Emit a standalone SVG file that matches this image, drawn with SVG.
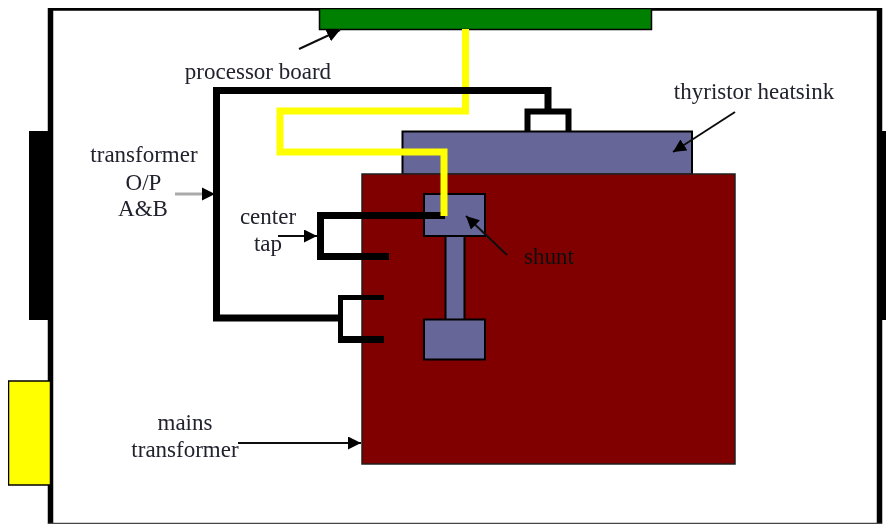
<svg xmlns="http://www.w3.org/2000/svg" width="886" height="524" viewBox="0 0 886 524">
<style>
.t{font-family:"Liberation Serif","Times New Roman",serif;font-size:23px;fill:#22222e;text-anchor:middle}
.b{fill:#666699;stroke:#000;stroke-width:2}
.w{fill:none;stroke:#000;stroke-width:7;stroke-linejoin:miter}
.a{fill:none;stroke:#111;stroke-width:2;marker-end:url(#h)}
</style>
<defs>
<marker id="h" markerUnits="userSpaceOnUse" markerWidth="14" markerHeight="14" refX="13" refY="6.500" orient="auto"><path d="M0 0L13 6.500L0 13Z" fill="#000"/></marker>
<filter id="soft" x="0" y="0" width="100%" height="100%"><feGaussianBlur stdDeviation="0.500"/></filter>
</defs>
<rect width="886" height="524" fill="#fff"/>
<g filter="url(#soft)">
<g id="enclosure">
<path d="M50.500 524V8H879.500V524" fill="none" stroke="#000" stroke-width="5.500"/>
<path d="M48 523.500H882" stroke="#444" stroke-width="1.500"/>
</g>
<g id="left-bar"><rect x="29" y="131" width="24" height="189" fill="#000"/></g>
<g id="right-bar"><rect x="882" y="131" width="4" height="189" fill="#000"/></g>
<g id="yellow-box"><rect x="8.500" y="381" width="42" height="104" fill="#ff0" stroke="#000" stroke-width="1.500"/></g>
<g id="processor-board"><rect x="319.500" y="8.500" width="332" height="21" fill="#008000" stroke="#000" stroke-width="1.500"/></g>
<g id="thyristor-heatsink"><rect class="b" x="402.500" y="131.500" width="289.500" height="43"/></g>
<g id="mains-transformer"><rect x="362" y="174" width="373" height="290" fill="#800000" stroke="#222" stroke-width="1.500"/></g>
<g id="shunt">
<rect class="b" x="445.500" y="236" width="19" height="84"/>
<rect class="b" x="424" y="194" width="61" height="42"/>
<rect class="b" x="424" y="319.500" width="61" height="40"/>
</g>
<g id="connectors">
<path class="w" d="M445 215.500H320.500V256.500H389"/>
<path d="M465.500 29V111H280V152H444V216" fill="none" stroke="#ff0" stroke-width="7"/>
<path class="w" d="M342 318H216.500V90.500H548V111"/>
<path class="w" style="stroke-width:6" d="M527.500 131V111.500H568.500V131"/>
<path class="w" style="stroke-width:5" d="M384 297.500H340.500V339.500"/>
<path class="w" d="M338 339.500H384"/>
<path class="a" d="M299 49L340 30"/>
<path class="a" d="M735 112L673 152"/>
<path d="M175 194H204" fill="none" stroke="#aaa" stroke-width="3"/>
<path d="M202 187.500L215 194L202 200.500Z" fill="#000"/>
<path class="a" d="M278 236H317"/>
<path class="a" d="M507 255L466 216"/>
<path class="a" d="M238 443H361"/>
</g>
<g id="labels">
<text class="t" x="258" y="79">processor board</text>
<text class="t" x="754" y="99">thyristor heatsink</text>
<text class="t" x="144" y="162">transformer</text>
<text class="t" x="143.500" y="190">O/P</text>
<text class="t" x="143" y="216">A&amp;B</text>
<text class="t" x="268" y="224">center</text>
<text class="t" x="268" y="251">tap</text>
<text class="t" x="549" y="264" style="fill:#111">shunt</text>
<text class="t" x="185" y="430">mains</text>
<text class="t" x="185" y="457">transformer</text>
</g>
</g>
</svg>
